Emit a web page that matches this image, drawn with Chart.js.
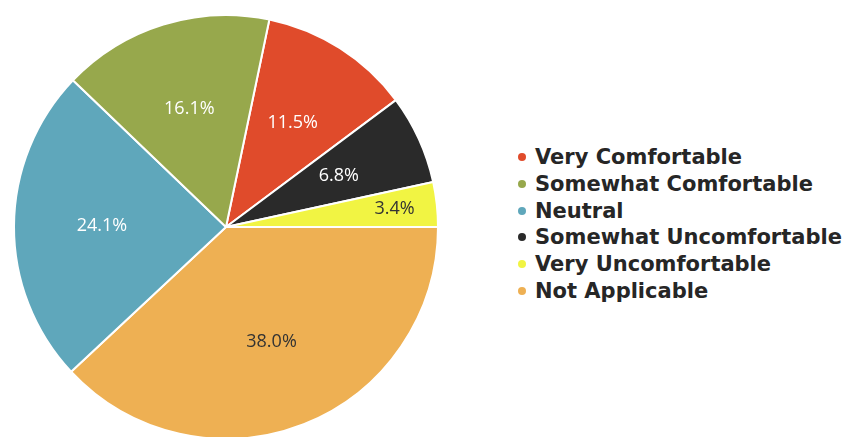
<!DOCTYPE html>
<html>
<head>
<meta charset="utf-8">
<script src="https://cdn.jsdelivr.net/npm/chart.js@4/dist/chart.umd.min.js"></script>
<style>
    body { margin: 0; background: #fff; }
    #wrap { position: relative; width: 848px; height: 437px; overflow: hidden; }
    #pieChart { position: absolute; left: 0; top: 0; }
    #legend {
        position: absolute; left: 518px; top: 144px;
        list-style: none; margin: 0; padding: 0;
        font-family: "DejaVu Sans", sans-serif; font-weight: bold; font-size: 21px;
        color: #262626;
    }
    #legend li { height: 26.8px; line-height: 26.8px; white-space: nowrap; }
    #legend .dot {
        display: inline-block; width: 8px; height: 8px; border-radius: 50%;
        margin-right: 9px; vertical-align: middle; position: relative; top: -1px;
    }
</style>
</head>
<body>
<div id="wrap">
    <canvas id="pieChart" width="452" height="441"></canvas>
    <ul id="legend"></ul>
</div>
<script>
const categories = ['Very Comfortable', 'Somewhat Comfortable', 'Neutral', 'Somewhat Uncomfortable', 'Very Uncomfortable', 'Not Applicable'];
const shares = [11.5, 16.1, 24.1, 6.8, 3.4, 38.0];
const colors = ['#E04B2B', '#97A84C', '#5FA7BB', '#2A2A2A', '#F1F443', '#EEB053'];
const labelColors = ['#ffffff', '#ffffff', '#ffffff', '#ffffff', '#333333', '#333333'];

// slices go clockwise from the top: red, black, yellow, orange, blue, green
const sliceOrder = [0, 3, 4, 5, 2, 1];

// legend built from the same arrays
const legendEl = document.getElementById('legend');
categories.forEach((name, i) => {
    const li = document.createElement('li');
    li.innerHTML = `<span class="dot" style="background:${colors[i]}"></span>${name}`;
    legendEl.appendChild(li);
});

// percentage text inside each slice
const sliceLabels = {
    id: 'sliceLabels',
    afterDatasetsDraw(chart) {
        const ctx = chart.ctx;
        const meta = chart.getDatasetMeta(0);
        const ds = chart.data.datasets[0];
        ctx.save();
        ctx.font = '18px "Open Sans", sans-serif';
        ctx.textAlign = 'center';
        ctx.textBaseline = 'middle';
        meta.data.forEach((arc, i) => {
            const p = arc.getProps(['x', 'y', 'startAngle', 'endAngle', 'outerRadius'], true);
            const mid = (p.startAngle + p.endAngle) / 2;
            const value = ds.data[i];
            const r = p.outerRadius * (value < 5 ? 0.8 : 0.585);
            ctx.fillStyle = ds.labelColors[i];
            ctx.fillText(value.toFixed(1) + '%', p.x + Math.cos(mid) * r, p.y + Math.sin(mid) * r);
        });
        ctx.restore();
    }
};

const startShare = shares[0] + shares[3] + shares[4];
const total = shares.reduce((a, b) => a + b, 0);

new Chart(document.getElementById('pieChart'), {
    type: 'pie',
    data: {
        labels: sliceOrder.map(i => categories[i]),
        datasets: [{
            data: sliceOrder.map(i => shares[i]),
            backgroundColor: sliceOrder.map(i => colors[i]),
            labelColors: sliceOrder.map(i => labelColors[i]),
            borderColor: '#ffffff',
            borderWidth: 2
        }]
    },
    options: {
        responsive: false,
        animation: false,
        rotation: 90 - startShare / total * 360,
        layout: { padding: { left: 13, right: 13, top: 14, bottom: 1 } },
        plugins: {
            legend: { display: false },
            tooltip: { enabled: false }
        }
    },
    plugins: [sliceLabels]
});
</script>
</body>
</html>
